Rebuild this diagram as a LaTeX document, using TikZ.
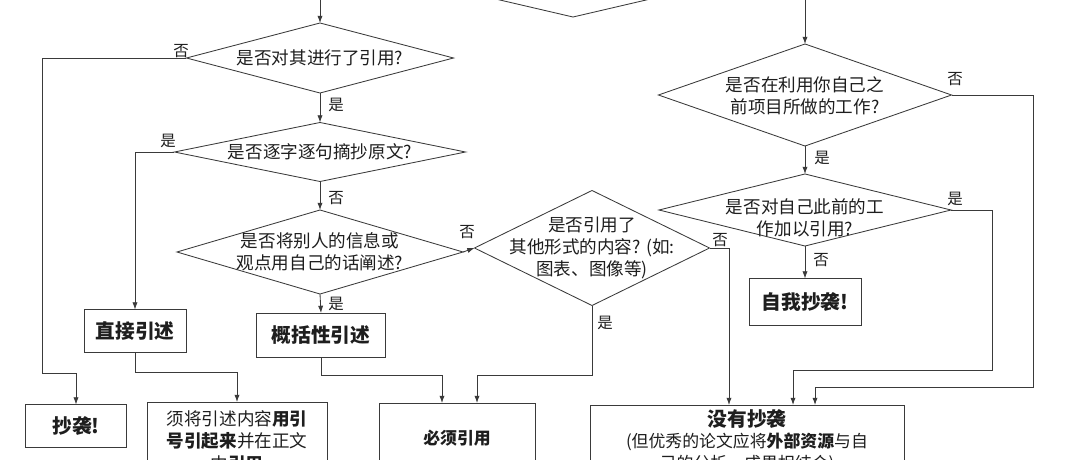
\documentclass[tikz,border=0pt]{standalone}
\usepackage{fontspec}
\setmainfont{Noto Sans CJK SC}
\usetikzlibrary{shapes.geometric,arrows.meta}
\definecolor{FCLine}{HTML}{3A3A3A}
\definecolor{FCText}{HTML}{1E1E1E}
\tikzset{
  fcq/.style={diamond,draw=FCLine,line width=.6pt,inner sep=0pt,outer sep=0pt},
  fctxt/.style={align=center,text=FCText,inner sep=0pt,font=\fontsize{12.5}{15.5}\selectfont},
  fcbox/.style={draw=FCLine,line width=.6pt,inner sep=0pt,outer sep=0pt,align=center,text=FCText},
  fcyn/.style={text=FCText,inner sep=0pt,font=\fontsize{11}{13}\selectfont},
  fcarr/.style={draw=FCLine,line width=.6pt,-{Latex[length=1.8mm,width=1.3mm]}}
}

\begin{document}
\begin{tikzpicture}[x=0.025cm,y=-0.025cm]
\path[use as bounding box] (0,0) rectangle (1080,460);
\clip (0,0) rectangle (1080,460);
\fill[white] (0,0) rectangle (1080,460);
\node[fcq,minimum width=10.1cm,minimum height=2.35cm] (d0) at (573,-30) {};
\coordinate (inL) at (320,0);
\coordinate (inR) at (805,0);
\node[fcq,minimum width=6.675cm,minimum height=1.75cm] (d1) at (320,58) {};
\node[fctxt] (d1t) at (d1) {是否对其进行了引用?};
\node[fcq,minimum width=7.275cm,minimum height=1.475cm] (d2) at (320,152) {};
\node[fctxt] (d2t) at (d2) {是否逐字逐句摘抄原文?};
\node[fcq,minimum width=7.15cm,minimum height=2.1cm] (d3) at (320,252) {};
\node[fctxt] (d3t) at (d3) {是否将别人的信息或\\观点用自己的话阐述?};
\node[fcq,minimum width=5.875cm,minimum height=2.875cm] (d4) at (592,248) {};
\node[fctxt] (d4t) at (d4) {是否引用了\\其他形式的内容? (如:\\图表、图像等)};
\node[fcq,minimum width=7.325cm,minimum height=2.55cm] (d5) at (805,95) {};
\node[fctxt] (d5t) at (805,96) {是否在利用你自己之\\前项目所做的工作?};
\node[fcq,minimum width=7.3cm,minimum height=1.8cm] (d6) at (805,210) {};
\node[fctxt] (d6t) at (805,218) {是否对自己此前的工\\作加以引用?};
\node[fcbox,minimum width=2.55cm,minimum height=1.075cm,font=\fontsize{14}{17}\selectfont\bfseries] (zhijie) at (135,331) {直接引述};
\node[fcbox,minimum width=3.225cm,minimum height=1.1cm,font=\fontsize{14}{17}\selectfont\bfseries] (gaikuo) at (321,335) {概括性引述};
\node[fcbox,minimum width=2.525cm,minimum height=1.075cm,font=\fontsize{14}{17}\selectfont\bfseries] (chaoxi) at (76,426) {抄袭!};
\node[fcbox,minimum width=4.5cm,minimum height=1.95cm,font=\fontsize{12.5}{16}\selectfont] (yinhao) at (237,441) {须将引述内容\textbf{用引}\\\textbf{号引起来}并在正文\\中\textbf{引用}};
\node[fcbox,minimum width=3.9cm,minimum height=1.75cm,font=\fontsize{12}{15}\selectfont\bfseries] (bixu) at (457,438) {必须引用};
\node[fcbox,minimum width=2.8cm,minimum height=1.175cm,font=\fontsize{14}{17}\selectfont\bfseries] (ziwo) at (805,302) {自我抄袭!};
\node[fcbox,minimum width=7.85cm,minimum height=1.8cm,font=\fontsize{12}{15.5}\selectfont] (meiyou) at (747,441) {{\fontsize{14}{17}\selectfont\bfseries 没有抄袭}\\(但优秀的论文应将\textbf{外部资源}与自\\己的分析、成果相结合)};
\draw[fcarr] (inL) -- (d1.north);
\draw[fcarr] (inR) -- (d5.north);
\draw[fcarr] (d1.west) -| (42,373) -| (chaoxi.north);
\draw[fcarr] (d1.south) -- (d2.north);
\draw[fcarr] (d2.west) -| (zhijie.north);
\draw[fcarr] (d2.south) -- (d3.north);
\draw[fcarr] (d3.south) -- (gaikuo.north);
\draw[fcarr] (d3.east) -- (d4.west);
\draw[fcarr] (d4.east) -| ([xshift=-0.45cm]meiyou.north);
\draw[fcarr] (d4.south) -- (592,375) -| ([xshift=0.5cm]bixu.north);
\draw[fcarr] (gaikuo.south) -- (321,375) -| ([xshift=-0.375cm]bixu.north);
\draw[fcarr] (zhijie.south) -- (135,372) -| (yinhao.north);
\draw[fcarr] (d5.south) -- (d6.north);
\draw[fcarr] (d5.east) -| (1033,387) -| ([xshift=1.7cm]meiyou.north);
\draw[fcarr] (d6.east) -| (992,370) -| ([xshift=1.15cm]meiyou.north);
\draw[fcarr] (d6.south) -- (ziwo.north);
\node[fcyn] (n1) at (181,51) {否};
\node[fcyn] (y1) at (336,105) {是};
\node[fcyn] (y2) at (168,141) {是};
\node[fcyn] (n2) at (336,198) {否};
\node[fcyn] (y3) at (336,304) {是};
\node[fcyn] (n3) at (467,232) {否};
\node[fcyn] (n4) at (720,240) {否};
\node[fcyn] (y4) at (605,323) {是};
\node[fcyn] (n5) at (955,79) {否};
\node[fcyn] (y5) at (822,158) {是};
\node[fcyn] (y6) at (955,199) {是};
\node[fcyn] (n6) at (821,260) {否};
\end{tikzpicture}
\end{document}
